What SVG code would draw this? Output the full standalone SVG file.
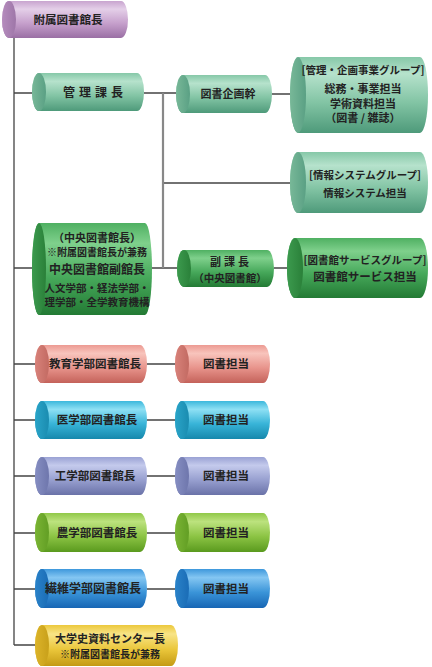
<svg xmlns="http://www.w3.org/2000/svg" width="432" height="667" viewBox="0 0 432 667">
<defs>
<linearGradient id="b-pu" x1="0" y1="0" x2="0" y2="1"><stop offset="0" stop-color="#c8a4cf"/><stop offset="0.22" stop-color="#e4cfe8"/><stop offset="0.6" stop-color="#c6a0cc"/><stop offset="1" stop-color="#9a6fa4"/></linearGradient>
<linearGradient id="c-pu" x1="0" y1="0" x2="1" y2="0"><stop offset="0" stop-color="#b58cbd"/><stop offset="1" stop-color="#9e76a8"/></linearGradient>
<linearGradient id="b-tl" x1="0" y1="0" x2="0" y2="1"><stop offset="0" stop-color="#86c8a8"/><stop offset="0.22" stop-color="#b6e2cc"/><stop offset="0.6" stop-color="#82c4a4"/><stop offset="1" stop-color="#4e9a7a"/></linearGradient>
<linearGradient id="c-tl" x1="0" y1="0" x2="1" y2="0"><stop offset="0" stop-color="#78b898"/><stop offset="1" stop-color="#5aa084"/></linearGradient>
<linearGradient id="b-gr" x1="0" y1="0" x2="0" y2="1"><stop offset="0" stop-color="#4fb062"/><stop offset="0.22" stop-color="#7fd08c"/><stop offset="0.6" stop-color="#46a85a"/><stop offset="1" stop-color="#237a34"/></linearGradient>
<linearGradient id="c-gr" x1="0" y1="0" x2="1" y2="0"><stop offset="0" stop-color="#3c9a4e"/><stop offset="1" stop-color="#2a8039"/></linearGradient>
<linearGradient id="b-rd" x1="0" y1="0" x2="0" y2="1"><stop offset="0" stop-color="#ec9a92"/><stop offset="0.22" stop-color="#f8c4bc"/><stop offset="0.6" stop-color="#e8948c"/><stop offset="1" stop-color="#c4625a"/></linearGradient>
<linearGradient id="c-rd" x1="0" y1="0" x2="1" y2="0"><stop offset="0" stop-color="#d8827a"/><stop offset="1" stop-color="#c26a62"/></linearGradient>
<linearGradient id="b-cy" x1="0" y1="0" x2="0" y2="1"><stop offset="0" stop-color="#3cb8dc"/><stop offset="0.22" stop-color="#8ee0f4"/><stop offset="0.6" stop-color="#38b4d8"/><stop offset="1" stop-color="#1688ac"/></linearGradient>
<linearGradient id="c-cy" x1="0" y1="0" x2="1" y2="0"><stop offset="0" stop-color="#2aa4c8"/><stop offset="1" stop-color="#1a8cb0"/></linearGradient>
<linearGradient id="b-lv" x1="0" y1="0" x2="0" y2="1"><stop offset="0" stop-color="#9aa2d4"/><stop offset="0.22" stop-color="#c4caec"/><stop offset="0.6" stop-color="#98a0d0"/><stop offset="1" stop-color="#6a72a8"/></linearGradient>
<linearGradient id="c-lv" x1="0" y1="0" x2="1" y2="0"><stop offset="0" stop-color="#868ec2"/><stop offset="1" stop-color="#6e76ac"/></linearGradient>
<linearGradient id="b-lm" x1="0" y1="0" x2="0" y2="1"><stop offset="0" stop-color="#90c848"/><stop offset="0.22" stop-color="#bce27e"/><stop offset="0.6" stop-color="#8cc444"/><stop offset="1" stop-color="#5a9a1e"/></linearGradient>
<linearGradient id="c-lm" x1="0" y1="0" x2="1" y2="0"><stop offset="0" stop-color="#7ab434"/><stop offset="1" stop-color="#629e24"/></linearGradient>
<linearGradient id="b-bl" x1="0" y1="0" x2="0" y2="1"><stop offset="0" stop-color="#3e98dc"/><stop offset="0.22" stop-color="#84c6f2"/><stop offset="0.6" stop-color="#3a94d8"/><stop offset="1" stop-color="#1766b4"/></linearGradient>
<linearGradient id="c-bl" x1="0" y1="0" x2="1" y2="0"><stop offset="0" stop-color="#2a82c8"/><stop offset="1" stop-color="#1a6cb6"/></linearGradient>
<linearGradient id="b-ye" x1="0" y1="0" x2="0" y2="1"><stop offset="0" stop-color="#ecc83c"/><stop offset="0.22" stop-color="#f8e486"/><stop offset="0.6" stop-color="#eac63a"/><stop offset="1" stop-color="#c49a14"/></linearGradient>
<linearGradient id="c-ye" x1="0" y1="0" x2="1" y2="0"><stop offset="0" stop-color="#dcb42a"/><stop offset="1" stop-color="#c8a01a"/></linearGradient>
</defs>
<style>
text{font-family:"Noto Sans CJK JP","Noto Sans",sans-serif;font-weight:bold;fill:#222;text-anchor:middle}
.s12{font-size:12px}.s115{font-size:11.5px}.s11{font-size:11px}.s105{font-size:10.5px}.s10{font-size:10px}
.ln{stroke:#444;stroke-width:1.3;fill:none}
.lg{stroke:#888;stroke-width:2.2;fill:none}
</style>
<g id="connectors">
<path class="ln" d="M14,38V645M14,93H32M14,268H32M14,364H35M14,420H35M14,476H35M14,533H35M14,589H35M14,645H35"/>
<path class="ln" d="M144,93H176M272,94H290M163,183H290M152,268H177M274,268H287"/>
<path class="ln" d="M147,364H175M147,420H175M147,476H175M147,533H175M147,589H175"/>
<path class="lg" d="M163,93V268"/>
</g>
<g id="n-top"><path fill="url(#b-pu)" d="M9,1H121A7,18.5 0 0 1 121,38H9A7,18.5 0 0 1 9,1Z"/><ellipse cx="9" cy="19.5" rx="7" ry="18.5" fill="url(#c-pu)"/><text class="s115" x="68" y="23.5">附属図書館長</text></g>
<g id="n-kanri"><path fill="url(#b-tl)" d="M39,73H137A7,19 0 0 1 137,111H39A7,19 0 0 1 39,73Z"/><ellipse cx="39" cy="92" rx="7" ry="19" fill="url(#c-tl)"/><text class="s12" x="95" y="97" letter-spacing="4">管理課長</text></g>
<g id="n-kikaku"><path fill="url(#b-tl)" d="M183,75H265A7,19 0 0 1 265,113H183A7,19 0 0 1 183,75Z"/><ellipse cx="183" cy="94" rx="7" ry="19" fill="url(#c-tl)"/><text class="s11" x="228" y="98">図書企画幹</text></g>
<g id="n-grp1"><path fill="url(#b-tl)" d="M298,57H420A8,38 0 0 1 420,133H298A8,38 0 0 1 298,57Z"/><ellipse cx="298" cy="95" rx="8" ry="38" fill="url(#c-tl)"/>
<text class="s105" x="363" y="74">[管理・企画事業グループ]</text><text class="s11" x="363" y="93">総務・事業担当</text><text class="s11" x="363" y="107.5">学術資料担当</text><text class="s11" x="363" y="122">（図書 / 雑誌）</text></g>
<g id="n-grp2"><path fill="url(#b-tl)" d="M298,152H420A8,30.5 0 0 1 420,213H298A8,30.5 0 0 1 298,152Z"/><ellipse cx="298" cy="182.5" rx="8" ry="30.5" fill="url(#c-tl)"/>
<text class="s105" x="365" y="179">[情報システムグループ]</text><text class="s105" x="365" y="197">情報システム担当</text></g>
<g id="n-chuo"><path fill="url(#b-gr)" d="M39,223H145A7,46 0 0 1 145,315H39A7,46 0 0 1 39,223Z"/><ellipse cx="39" cy="269" rx="7" ry="46" fill="url(#c-gr)"/>
<text class="s11" x="97" y="241.5">（中央図書館長）</text><text class="s10" x="97" y="256">※附属図書館長が兼務</text><text class="s12" x="97" y="274">中央図書館副館長</text><text class="s105" x="97" y="292">人文学部・経法学部・</text><text class="s105" x="97" y="306">理学部・全学教育機構</text></g>
<g id="n-fuku"><path fill="url(#b-gr)" d="M184,250H267A7,18.5 0 0 1 267,287H184A7,18.5 0 0 1 184,250Z"/><ellipse cx="184" cy="268.5" rx="7" ry="18.5" fill="url(#c-gr)"/>
<text class="s11" x="231" y="265.5" letter-spacing="3">副課長</text><text class="s105" x="230" y="281.5">（中央図書館）</text></g>
<g id="n-grp3"><path fill="url(#b-gr)" d="M295,238H420A8,30 0 0 1 420,298H295A8,30 0 0 1 295,238Z"/><ellipse cx="295" cy="268" rx="8" ry="30" fill="url(#c-gr)"/>
<text class="s105" x="365" y="264">[図書館サービスグループ]</text><text class="s115" x="365" y="281">図書館サービス担当</text></g>
<g id="n-kyoiku"><path fill="url(#b-rd)" d="M42,345H140A7,19 0 0 1 140,383H42A7,19 0 0 1 42,345Z"/><ellipse cx="42" cy="364" rx="7" ry="19" fill="url(#c-rd)"/><text class="s115" x="95" y="368">教育学部図書館長</text></g>
<g id="n-kyoiku-t"><path fill="url(#b-rd)" d="M182,345H263A7,19 0 0 1 263,383H182A7,19 0 0 1 182,345Z"/><ellipse cx="182" cy="364" rx="7" ry="19" fill="url(#c-rd)"/><text class="s115" x="226" y="368">図書担当</text></g>
<g id="n-igaku"><path fill="url(#b-cy)" d="M42,401H140A7,19 0 0 1 140,439H42A7,19 0 0 1 42,401Z"/><ellipse cx="42" cy="420" rx="7" ry="19" fill="url(#c-cy)"/><text class="s115" x="97" y="424">医学部図書館長</text></g>
<g id="n-igaku-t"><path fill="url(#b-cy)" d="M182,401H263A7,19 0 0 1 263,439H182A7,19 0 0 1 182,401Z"/><ellipse cx="182" cy="420" rx="7" ry="19" fill="url(#c-cy)"/><text class="s115" x="226" y="424">図書担当</text></g>
<g id="n-kogaku"><path fill="url(#b-lv)" d="M42,457H140A7,19 0 0 1 140,495H42A7,19 0 0 1 42,457Z"/><ellipse cx="42" cy="476" rx="7" ry="19" fill="url(#c-lv)"/><text class="s115" x="95" y="480">工学部図書館長</text></g>
<g id="n-kogaku-t"><path fill="url(#b-lv)" d="M182,457H263A7,19 0 0 1 263,495H182A7,19 0 0 1 182,457Z"/><ellipse cx="182" cy="476" rx="7" ry="19" fill="url(#c-lv)"/><text class="s115" x="226" y="480">図書担当</text></g>
<g id="n-nogaku"><path fill="url(#b-lm)" d="M42,513H140A7,19.5 0 0 1 140,552H42A7,19.5 0 0 1 42,513Z"/><ellipse cx="42" cy="532.5" rx="7" ry="19.5" fill="url(#c-lm)"/><text class="s115" x="97" y="537">農学部図書館長</text></g>
<g id="n-nogaku-t"><path fill="url(#b-lm)" d="M182,513H263A7,19.5 0 0 1 263,552H182A7,19.5 0 0 1 182,513Z"/><ellipse cx="182" cy="532.5" rx="7" ry="19.5" fill="url(#c-lm)"/><text class="s115" x="226" y="537">図書担当</text></g>
<g id="n-seni"><path fill="url(#b-bl)" d="M42,569H140A7,19.5 0 0 1 140,608H42A7,19.5 0 0 1 42,569Z"/><ellipse cx="42" cy="588.5" rx="7" ry="19.5" fill="url(#c-bl)"/><text class="s12" x="93" y="593">繊維学部図書館長</text></g>
<g id="n-seni-t"><path fill="url(#b-bl)" d="M182,569H263A7,19.5 0 0 1 263,608H182A7,19.5 0 0 1 182,569Z"/><ellipse cx="182" cy="588.5" rx="7" ry="19.5" fill="url(#c-bl)"/><text class="s115" x="226" y="593">図書担当</text></g>
<g id="n-shiryo"><path fill="url(#b-ye)" d="M42,625H171A7,20.5 0 0 1 171,666H42A7,20.5 0 0 1 42,625Z"/><ellipse cx="42" cy="645.5" rx="7" ry="20.5" fill="url(#c-ye)"/>
<text class="s11" x="110" y="643">大学史資料センター長</text><text class="s10" x="110" y="658">※附属図書館長が兼務</text></g>
</svg>
